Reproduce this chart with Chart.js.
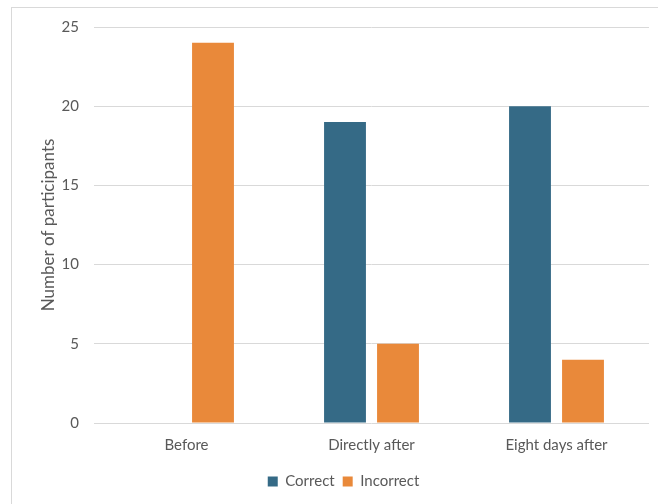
<!DOCTYPE html>
<html>
<head>
<meta charset="utf-8">
<script src="https://cdn.jsdelivr.net/npm/chart.js@4"></script>
<style>
  html, body { margin: 0; padding: 0; background: #fff; overflow: hidden; }
  #frame { position: absolute; left: 11px; top: 7px; width: 700px; height: 600px; border: 1px solid #d9d9d9; }
  #wrap { position: absolute; left: 0; top: 0; width: 658px; height: 504px; }
</style>
</head>
<body>
<div id="frame"></div>
<div id="wrap"><canvas id="chart" width="658" height="504"></canvas></div>
<script>
// dữ liệu
const categories = ['Before', 'Directly after', 'Eight days after'];
const correct = [0, 19, 20];
const incorrect = [24, 5, 4];
const yTicks = [0, 5, 10, 15, 20, 25];

const FONT = 'Lato, "Open Sans", sans-serif';
const TEXT = '#595959';

const ctx = document.getElementById('chart').getContext('2d');
new Chart(ctx, {
    type: 'bar',
    data: {
        labels: categories,
        datasets: [
            {
                label: 'Correct',
                data: correct,
                backgroundColor: '#356A86',
                categoryPercentage: 0.573,
                barPercentage: 0.79
            },
            {
                label: 'Incorrect',
                data: incorrect,
                backgroundColor: '#E9893A',
                categoryPercentage: 0.573,
                barPercentage: 0.79
            }
        ]
    },
    options: {
        responsive: false,
        animation: false,
        layout: { padding: { left: 38, right: 9, top: 27, bottom: 5 } },
        scales: {
            x: {
                grid: { display: false },
                border: { display: false },
                ticks: { color: TEXT, font: { family: FONT, size: 15 }, padding: 5 },
                afterFit: scale => { scale.height = 43; }
            },
            y: {
                min: 0,
                max: 25,
                afterBuildTicks: scale => { scale.ticks = yTicks.map(v => ({ value: v })); },
                grid: { color: '#d9d9d9', lineWidth: 1, drawTicks: false },
                border: { display: false },
                ticks: { color: TEXT, font: { family: FONT, size: 15 }, padding: 15 },
                title: {
                    display: true,
                    text: 'Number of participants',
                    color: TEXT,
                    font: { family: FONT, size: 17 },
                    padding: 0
                },
                afterFit: scale => { scale.width = 56; }
            }
        },
        plugins: {
            legend: {
                position: 'bottom',
                labels: {
                    color: TEXT,
                    font: { family: FONT, size: 15 },
                    boxWidth: 10,
                    boxHeight: 10,
                    padding: 8
                }
            },
            tooltip: { enabled: false }
        }
    }
});
</script>
</body>
</html>
